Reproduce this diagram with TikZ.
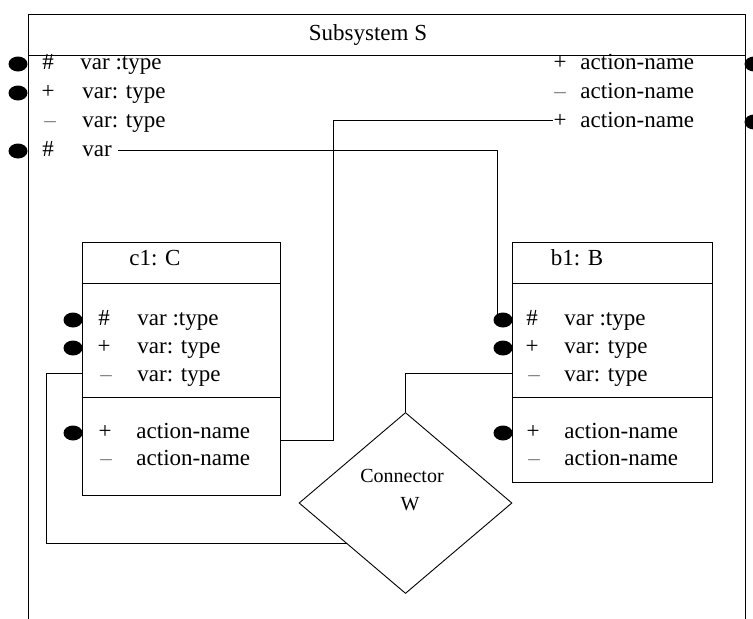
\documentclass[tikz,border=0pt]{standalone}
\usepackage{fontspec}
\setmainfont{Liberation Serif}
\usetikzlibrary{shapes.geometric,calc}

\tikzset{
	txt/.style={font=\fontsize{23}{27}\selectfont, inner sep=0pt, anchor=base west},
	sym/.style={font=\fontsize{23}{27}\selectfont, inner sep=0pt, anchor=base},
	minus/.style={sym, text=black!50},
	port/.style={ellipse, fill, inner sep=0pt, minimum width=19pt, minimum height=15pt},
	box/.style={draw, inner sep=0pt},
}

\begin{document}
\begin{tikzpicture}[x=1pt, y=-1pt, line width=.9pt]
	
	\useasboundingbox (0,0) rectangle (753,619);
	
	\draw (28,619) -- (28,14) -- (745,14) -- (745,619);
	\draw (28,55) -- (745,55);
	\node [sym] (title) at (368,40) {Subsystem S};
	
	\node [sym] (sv1s) at (48,69) {\#};
	\node [txt] (sv1) at (80,69) {var :type};
	\node [sym] (sv2s) at (48,98) {+};
	\node [txt] (sv2) at (82,98) {var: type};
	\node [minus] (sv3s) at (50,127) {–};
	\node [txt] (sv3) at (82,127) {var: type};
	\node [sym] (sv4s) at (48,156) {\#};
	\node [txt] (sv4) at (82,156) {var};
	
	\node [sym] (sa1s) at (560,69) {+};
	\node [txt] (sa1) at (580,69) {action-name};
	\node [minus] (sa2s) at (560,98) {–};
	\node [txt] (sa2) at (580,98) {action-name};
	\node [sym] (sa3s) at (560,127) {+};
	\node [txt] (sa3) at (580,127) {action-name};
	
	
	\node [box, minimum width=198pt, minimum height=253pt] (c1) at (181,368.5) {};
	\draw (82,283) -- (280,283);
	\draw (82,397) -- (280,397);
	\node [sym] (c1t) at (155,265) {c1: C};
	\node [sym] (c1v1s) at (104,325) {\#};
	\node [txt] (c1v1) at (137,325) {var :type};
	\node [sym] (c1v2s) at (104,353) {+};
	\node [txt] (c1v2) at (137,353) {var: type};
	\node [minus] (c1v3s) at (106,381) {–};
	\node [txt] (c1v3) at (137,381) {var: type};
	\node [sym] (c1a1s) at (105,438) {+};
	\node [txt] (c1a1) at (136,438) {action-name};
	\node [minus] (c1a2s) at (106,465) {–};
	\node [txt] (c1a2) at (136,465) {action-name};
	
	\node [box, minimum width=200pt, minimum height=240pt] (b1) at (612,362) {};
	\draw (512,283) -- (712,283);
	\draw (512,397) -- (712,397);
	\node [sym] (b1t) at (577,265) {b1: B};
	\node [sym] (b1v1s) at (532,325) {\#};
	\node [txt] (b1v1) at (564,325) {var :type};
	\node [sym] (b1v2s) at (532,353) {+};
	\node [txt] (b1v2) at (564,353) {var: type};
	\node [minus] (b1v3s) at (534,381) {–};
	\node [txt] (b1v3) at (564,381) {var: type};
	\node [sym] (b1a1s) at (533,438) {+};
	\node [txt] (b1a1) at (564,438) {action-name};
	\node [minus] (b1a2s) at (534,465) {–};
	\node [txt] (b1a2) at (564,465) {action-name};
	
	\node [draw, diamond, inner sep=0pt, minimum width=213pt, minimum height=181pt] (w) at (405.5,503) {};
	\node [sym, font=\fontsize{20}{24}\selectfont] (wname) at (402,482) {Connector};
	\node [sym, font=\fontsize{20}{24}\selectfont] (wid) at (410,510) {W};
	
	
	\coordinate (k1) at (497,320);
	\coordinate (k2) at (333,440);
	\coordinate (k3) at (46,373);
	\coordinate (k4) at (405.5,373);
	
	\draw ([xshift=6pt]sv4.east) -| (k1);
	\draw (sa3s.west) -| (k2) -- (k2 -| c1.east);
	\draw (c1.west |- k3) -- (k3) |- ($(w.west)!0.45!(w.south)$);
	\draw (b1.west |- k4) -- (k4) -- (w.north);
	
	
	\node [port] (sp1) at (18,64) {};
	\node [port] (sp2) at (18,93) {};
	\node [port] (sp4) at (18,151) {};
	\node [port] (sq1) at (754,64) {};
	\node [port] (sq3) at (754,122) {};
	
	\node [port] (c1p1) at (73,320) {};
	\node [port] (c1p2) at (73,348) {};
	\node [port] (c1p3) at (73,433) {};
	
	\node [port] (b1p1) at (503,320) {};
	\node [port] (b1p2) at (503,348) {};
	\node [port] (b1p3) at (503,433) {};
	
\end{tikzpicture}
\end{document}
